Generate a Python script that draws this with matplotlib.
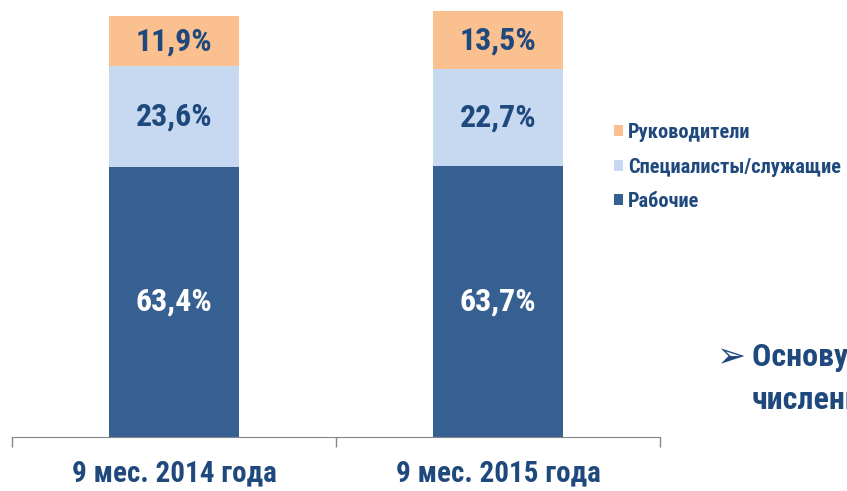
import matplotlib
matplotlib.use("Agg")
import matplotlib.pyplot as plt
from matplotlib.patches import Patch

plt.rcParams['font.family'] = ['Roboto Condensed', 'PT Sans Narrow', 'DejaVu Sans']

categories = ["9 мес. 2014 года", "9 мес. 2015 года"]
workers = [63.4, 63.7]
specialists = [23.6, 22.7]
managers = [11.9, 13.5]
series_names = ["Рабочие", "Специалисты/служащие", "Руководители"]

c_workers = "#376092"
c_spec = "#C6D9F1"
c_man = "#FAC090"
txt = "#1F497D"

fig = plt.figure(figsize=(8.47, 4.91), dpi=100)
ax = fig.add_axes([12/847, 1 - 437/491, 648/847, 437/491])

x = [0, 1]
w = 0.4
ax.bar(x, workers, width=w, color=c_workers)
ax.bar(x, specialists, width=w, bottom=workers, color=c_spec)
bot2 = [a + b for a, b in zip(workers, specialists)]
ax.bar(x, managers, width=w, bottom=bot2, color=c_man)

def fmt(v):
    return f"{v:.1f}%".replace(".", ",")

for i in x:
    ax.text(i, workers[i] / 2, fmt(workers[i]), ha="center", va="center",
            color="white", fontsize=23, fontweight="bold")
    ax.text(i, workers[i] + specialists[i] / 2, fmt(specialists[i]), ha="center",
            va="center", color=txt, fontsize=23, fontweight="bold")
    ax.text(i, bot2[i] + managers[i] / 2, fmt(managers[i]), ha="center",
            va="center", color=txt, fontsize=23, fontweight="bold")

ax.set_xlim(-0.5, 1.5)
ax.set_ylim(0, 102.6)
for s in ["top", "right", "left"]:
    ax.spines[s].set_visible(False)
ax.spines["bottom"].set_color("#868686")
ax.set_yticks([])
ax.set_xticks([-0.5, 0.5, 1.5])
ax.set_xticklabels([])
ax.tick_params(axis="x", direction="out", length=7.5, color="#868686", width=1)
ax.set_xticks(x, minor=True)
ax.set_xticklabels(categories, minor=True, fontsize=21, fontweight="bold", color=txt)
ax.tick_params(axis="x", which="minor", length=0, pad=16)

handles = [Patch(facecolor=c_man, edgecolor="none"),
           Patch(facecolor=c_spec, edgecolor="none"),
           Patch(facecolor=c_workers, edgecolor="none")]
labels = [series_names[2], series_names[1], series_names[0]]
leg = fig.legend(handles, labels, loc="upper left", bbox_to_anchor=(614/847, 1 - 123/491),
                 frameon=False, handlelength=0.45, handleheight=0.45, handletextpad=0.25,
                 labelspacing=0.76, prop={"size": 14.7, "weight": "bold"},
                 borderaxespad=0, borderpad=0)
for t in leg.get_texts():
    t.set_color(txt)

fig.text(716/847, 1 - 357/491, "➢", fontsize=25, color=txt, va="center", ha="left",
         family=["DejaVu Sans"])
fig.text(752/847, 1 - 357/491, "Основу численности", fontsize=23, fontweight="bold",
         color=txt, va="center", ha="left")
fig.text(752/847, 1 - 400/491, "численности", fontsize=23, fontweight="bold",
         color=txt, va="center", ha="left")

fig.savefig("out.png", dpi=100)
